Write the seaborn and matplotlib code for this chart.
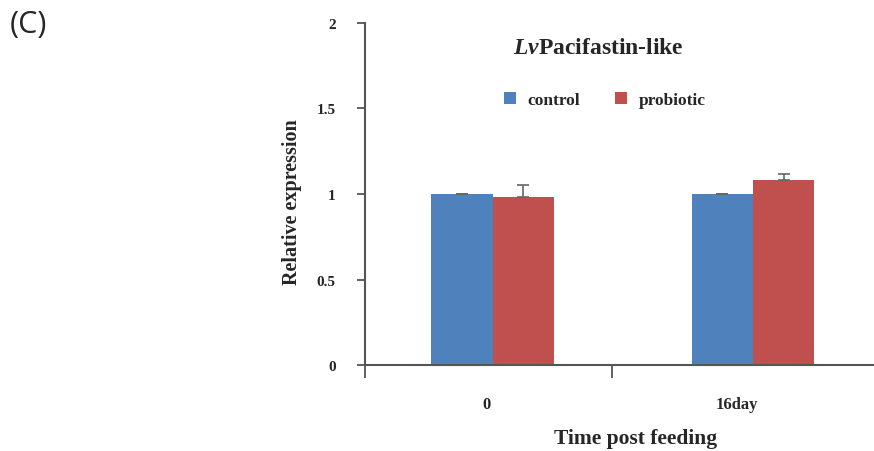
import matplotlib
matplotlib.use("Agg")
import matplotlib.pyplot as plt
import seaborn as sns
import pandas as pd

# data
times = ["0", "16day"]
groups = ["control", "probiotic"]
control_vals = [1.0, 1.0]
control_err = [0.0, 0.0]
probiotic_vals = [0.985, 1.08]
probiotic_err = [0.065, 0.04]

df = pd.DataFrame({
    "time": times * 2,
    "group": ["control"] * 2 + ["probiotic"] * 2,
    "value": control_vals + probiotic_vals,
    "err": control_err + probiotic_err,
})

sns.set_style("white")
serif = "Liberation Serif"
plt.rcParams["mathtext.fontset"] = "custom"
plt.rcParams["mathtext.it"] = "Liberation Serif:italic:bold"
plt.rcParams["mathtext.rm"] = "Liberation Serif:bold"

fig = plt.figure(figsize=(8.74, 4.52), dpi=100)
ax = fig.add_axes([0.4176, 0.19, 0.5824, 0.757])

sns.barplot(data=df, x="time", y="value", hue="group", order=times,
            hue_order=groups, palette=["#4F81BD", "#C0504D"],
            saturation=1, errorbar=None, width=0.47, gap=0, linewidth=0,
            ax=ax)

# one-sided error bars on top of each bar
for cont, g in zip(ax.containers, groups):
    sub = df[df["group"] == g].set_index("time").loc[times]
    xs = [p.get_x() + p.get_width() / 2 for p in cont.patches]
    ax.errorbar(xs, sub["value"], yerr=[[0] * len(xs), sub["err"]],
                fmt="none", ecolor="#666666", elinewidth=1.2, capsize=4,
                capthick=1.2)

ax.set_ylim(0, 2)
ax.set_xlim(-0.49, 1.465)
ax.set_yticks([0, 0.5, 1, 1.5, 2])
ax.set_yticklabels(["0", "0.5", "1", "1.5", "2"], fontfamily=serif,
                   fontweight="bold", fontsize=11)
ax.tick_params(axis="y", direction="out", length=6, width=1.3,
               color="#555555", left=True, pad=15)

# boundary ticks as major, labels on minor ticks
ax.set_xticks([-0.49, 0.46])
ax.set_xticklabels([])
ax.tick_params(axis="x", which="major", direction="out", length=9,
               width=1.3, color="#555555", bottom=True)
ax.set_xticks([-0.023, 0.94], minor=True)
ax.set_xticklabels(times, minor=True, fontfamily=serif, fontweight="bold",
                   fontsize=12)
ax.tick_params(axis="x", which="minor", length=0, pad=22)

for s in ["top", "right"]:
    ax.spines[s].set_visible(False)
for s in ["left", "bottom"]:
    ax.spines[s].set_color("#555555")
    ax.spines[s].set_linewidth(1.5)

ax.set_ylabel("Relative expression", fontfamily=serif, fontweight="bold",
              fontsize=14.5)
ax.yaxis.set_label_coords(-0.124, 0.48)
ax.set_xlabel("Time post feeding", fontfamily=serif, fontweight="bold",
              fontsize=15.5)
ax.xaxis.set_label_coords(0.531, -0.184)

ax.text(0.458, 0.927, r"$\mathit{Lv}$Pacifastin-like", transform=ax.transAxes,
        fontfamily=serif, fontweight="bold", fontsize=17, ha="center",
        va="center")

leg = ax.legend(loc="center", bbox_to_anchor=(0.471, 0.775), ncol=2,
                frameon=False, prop={"family": serif, "weight": "bold",
                                     "size": 12.5},
                handlelength=0.7, handleheight=0.7, columnspacing=2.0,
                handletextpad=0.65)

fig.text(0.011, 0.945, "(C)", fontfamily="Open Sans", fontsize=22,
         va="center", ha="left")

fig.savefig("out.png", dpi=100)
